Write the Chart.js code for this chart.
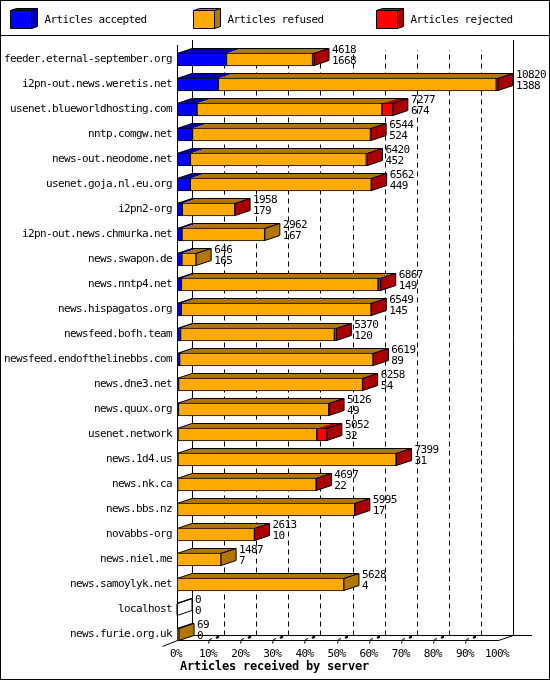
<!DOCTYPE html>
<html>
<head>
<meta charset="utf-8">
<style>html,body{margin:0;padding:0;background:#fff}canvas{display:block}</style>
<script src="https://cdn.jsdelivr.net/npm/chart.js@4"></script>
</head>
<body>
<canvas id="c" width="550" height="680" style="width:550px;height:680px"></canvas>
<script>
const categories = ["feeder.eternal-september.org","i2pn-out.news.weretis.net","usenet.blueworldhosting.com","nntp.comgw.net","news-out.neodome.net","usenet.goja.nl.eu.org","i2pn2-org","i2pn-out.news.chmurka.net","news.swapon.de","news.nntp4.net","news.hispagatos.org","newsfeed.bofh.team","newsfeed.endofthelinebbs.com","news.dne3.net","news.quux.org","usenet.network","news.1d4.us","news.nk.ca","news.bbs.nz","novabbs-org","news.niel.me","news.samoylyk.net","localhost","news.furie.org.uk"];
const totals = [4618,10820,7277,6544,6420,6562,1958,2962,646,6867,6549,5370,6619,6258,5126,5052,7399,4697,5995,2613,1487,5628,0,69];
const accepted = [1668,1388,674,524,452,449,179,167,165,149,145,120,89,54,49,32,31,22,17,10,7,4,0,0];
const refused = [2900,9372,6233,5995,5928,6098,1771,2795,481,6628,6399,5185,6520,6199,5067,4680,7353,4670,5973,2598,1480,5624,0,69];
const rejected = [50,60,370,25,40,15,8,0,0,90,5,65,10,5,10,340,15,5,5,5,0,0,0,0];
const seriesNames = ["Articles accepted","Articles refused","Articles rejected"];
const frontColors = ["#0000ff","#ffaa00","#ff0000"];
const darkColors = ["#0000aa","#b27700","#aa0000"];
const axisMax = 10820;
const axisTitle = "Articles received by server";
const FONT = "11px 'DejaVu Sans Mono'";
const BOLD = "bold 12px 'DejaVu Sans Mono'";
const SPACING = "-0.62px";
const DX = 15, DY = 5, HALF = 6;

function line(ctx, pts) {
  ctx.beginPath();
  pts.forEach((p, i) => i ? ctx.lineTo(p[0], p[1]) : ctx.moveTo(p[0], p[1]));
  ctx.stroke();
}
function poly(ctx, pts, fill, stroke) {
  ctx.beginPath();
  pts.forEach((p, i) => i ? ctx.lineTo(p[0], p[1]) : ctx.moveTo(p[0], p[1]));
  ctx.closePath();
  if (fill) { ctx.fillStyle = fill; ctx.fill(); }
  if (stroke) { ctx.strokeStyle = stroke; ctx.stroke(); }
}

const box3d = {
  id: 'box3d',
  beforeDraw(chart) {
    const ctx = chart.ctx;
    ctx.letterSpacing = SPACING;
    ctx.save();
    ctx.fillStyle = '#fff';
    ctx.fillRect(0, 0, chart.width, chart.height);
    ctx.strokeStyle = '#000';
    ctx.lineWidth = 1;
    ctx.strokeRect(0.5, 0.5, chart.width - 1, chart.height - 1);
    line(ctx, [[0, 35.5], [chart.width, 35.5]]);
    // legend
    const lx = [10.5, 193.5, 376.5], tx = [44.5, 227.5, 410.5];
    ctx.font = FONT; ctx.textBaseline = 'middle'; ctx.textAlign = 'left';
    seriesNames.forEach((n, i) => {
      const x = lx[i], w = 21, t = 10.5, b = 28.5;
      poly(ctx, [[x, t], [x + 6, t - 2], [x + w + 6, t - 2], [x + w, t]], darkColors[i], '#000');
      poly(ctx, [[x + w, t], [x + w + 6, t - 2], [x + w + 6, b - 2], [x + w, b]], darkColors[i], '#000');
      poly(ctx, [[x, t], [x + w, t], [x + w, b], [x, b]], frontColors[i], '#000');
      ctx.fillStyle = '#000';
      ctx.fillText(chart.data.datasets[i].label, tx[i], 20);
    });
    // walls and floor
    const xs = chart.scales.x;
    const x0 = Math.round(xs.getPixelForValue(0)) + 0.5;
    const x1 = Math.round(xs.getPixelForValue(axisMax)) + 0.5;
    const fy = 640.5, by = fy - DY;
    ctx.strokeStyle = '#000';
    ctx.setLineDash([5, 4]);
    for (let k = 1; k < 10; k++) {
      const gx = Math.round(xs.getPixelForValue(axisMax * k / 10)) + DX + 0.5;
      line(ctx, [[gx, by], [gx, 50]]);
    }
    ctx.setLineDash([]);
    line(ctx, [[x0, 45], [x0, fy]]);
    line(ctx, [[x0 + DX, 40], [x0 + DX, by]]);
    line(ctx, [[x1 + DX, 40], [x1 + DX, by]]);
    line(ctx, [[x0 - DX, fy + DY + 1], [x0, fy], [x1, fy], [x1 + DX, by]]);
    line(ctx, [[x0 + DX, by], [532, by]]);
    for (let k = 1; k < 10; k++) {
      const gx = Math.round(xs.getPixelForValue(axisMax * k / 10));
      line(ctx, [[gx - 0.5, fy + 3], [gx + 0.5, fy - 1], [gx + 3, fy - 2]]);
      ctx.lineWidth = 2;
      line(ctx, [[gx + 7, fy - 2.5], [gx + 10, fy - 4]]);
      ctx.lineWidth = 1;
    }
    ctx.letterSpacing = "-0.22px";
    ctx.font = BOLD; ctx.fillStyle = '#000'; ctx.textAlign = 'left'; ctx.textBaseline = 'middle';
    ctx.fillText(axisTitle, 180, 667);
    ctx.letterSpacing = SPACING;
    ctx.restore();
  },
  beforeDatasetsDraw(chart) {
    const ctx = chart.ctx, xs = chart.scales.x, ys = chart.scales.y;
    ctx.save();
    ctx.lineWidth = 1;
    categories.forEach((c, r) => {
      const cy = ys.getPixelForValue(r);
      const top = cy - HALF;
      let start = 0, lastEnd = xs.getPixelForValue(0);
      const begin = lastEnd;
      [accepted, refused, rejected].forEach((arr, s) => {
        const v = arr[r];
        if (!v) return;
        const a = xs.getPixelForValue(start), b = xs.getPixelForValue(start + v);
        poly(ctx, [[a, top], [a + DX, top - DY], [b + DX, top - DY], [b, top]], darkColors[s]);
        start += v; lastEnd = b;
      });
      line(ctx, [[begin, top], [begin + DX, top - DY], [lastEnd + DX, top - DY], [lastEnd, top]]);
    });
    ctx.restore();
  },
  afterDatasetsDraw(chart) {
    const ctx = chart.ctx, xs = chart.scales.x, ys = chart.scales.y;
    ctx.save();
    ctx.lineWidth = 1;
    ctx.font = FONT; ctx.textAlign = 'left'; ctx.textBaseline = 'middle';
    categories.forEach((c, r) => {
      const cy = ys.getPixelForValue(r);
      const top = cy - HALF, bot = cy + HALF;
      let sum = 0, last = 1;
      [accepted, refused, rejected].forEach((arr, s) => { if (arr[r]) { sum += arr[r]; last = s; } });
      const e = xs.getPixelForValue(sum);
      ctx.strokeStyle = '#000';
      poly(ctx, [[e, top], [e + DX, top - DY], [e + DX, bot - DY], [e, bot]], sum ? darkColors[last] : null, '#000');
      ctx.fillStyle = '#000';
      const lx = e + DX + 3;
      ctx.fillText(String(totals[r]), lx, cy - 9);
      ctx.fillText(String(accepted[r]), lx, cy + 2);
    });
    ctx.restore();
  }
};

const data = {
  labels: categories,
  datasets: [accepted, refused, rejected].map((d, i) => ({
    label: seriesNames[i],
    data: d,
    backgroundColor: frontColors[i],
    borderColor: '#000',
    borderWidth: 1,
    barThickness: 13,
    borderSkipped: false
  }))
};

new Chart(document.getElementById('c'), {
  type: 'bar',
  data,
  plugins: [box3d],
  options: {
    indexAxis: 'y',
    responsive: false,
    animation: false,
    devicePixelRatio: 1,
    layout: { padding: { left: 0, right: 52, top: 47, bottom: 13 } },
    plugins: { legend: { display: false }, tooltip: { enabled: false }, title: { display: false } },
    scales: {
      x: {
        stacked: true, min: 0, max: axisMax,
        grid: { display: false, drawTicks: false },
        border: { display: false },
        afterFit(s) { s.height = 20; },
        ticks: {
          stepSize: axisMax / 10, color: '#000', font: { family: "DejaVu Sans Mono", size: 11 },
          padding: 1, maxRotation: 0, autoSkip: false, labelOffset: -1,
          callback: v => Math.round(v / axisMax * 100) + '%'
        }
      },
      y: {
        stacked: true,
        grid: { display: false, drawTicks: false },
        border: { display: false },
        afterFit(s) { s.width = 177; },
        ticks: { color: '#000', font: { family: "DejaVu Sans Mono", size: 11 }, padding: 5, autoSkip: false }
      }
    }
  }
});
</script>
</body>
</html>
